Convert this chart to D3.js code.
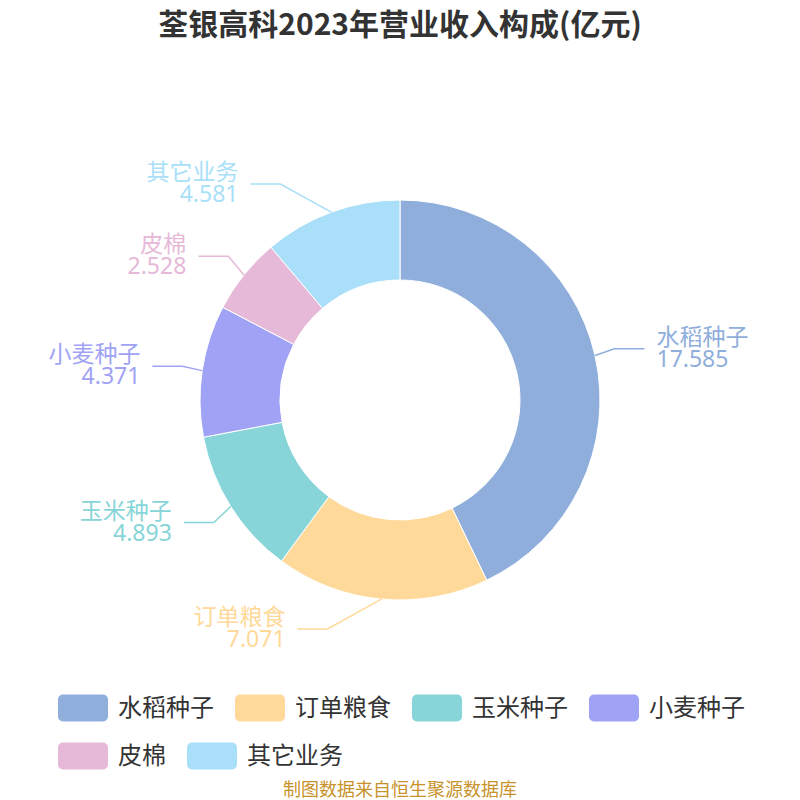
<!DOCTYPE html>
<meta charset="utf-8">
<script src="https://d3js.org/d3.v7.min.js"></script>
<style>
  body { margin: 0; background: #fff; }
  svg text { font-family: "Noto Sans CJK SC", "Noto Sans", sans-serif; }
  svg text.lbl { font-family: "Noto Sans", "Noto Sans CJK SC", sans-serif; }
</style>
<div id="chart"></div>
<script>
  // data
  const categories = ['水稻种子', '订单粮食', '玉米种子', '小麦种子', '皮棉', '其它业务'];
  const values = [17.585, 7.071, 4.893, 4.371, 2.528, 4.581];
  const colors = ['#8faedb', '#ffd999', '#87d5d8', '#a0a3f5', '#e6b9d8', '#a9dff8'];

  const title = '荃银高科2023年营业收入构成(亿元)';
  const source = '制图数据来自恒生聚源数据库';

  const width = 800, height = 800;
  const cx = 400, cy = 400, outerR = 200, innerR = 120;

  const svg = d3.select('#chart').append('svg')
    .attr('width', width)
    .attr('height', height);

  svg.append('text')
    .attr('x', width / 2)
    .attr('y', 35)
    .attr('text-anchor', 'middle')
    .style('font-size', '30px')
    .style('font-weight', 'bold')
    .style('fill', '#333')
    .text(title);

  const data = categories.map((c, i) => ({ name: c, value: values[i], color: colors[i] }));

  const pie = d3.pie().sort(null).value(d => d.value);
  const arcs = pie(data);
  const arc = d3.arc().innerRadius(innerR).outerRadius(outerR);

  const g = svg.append('g').attr('transform', `translate(${cx},${cy})`);

  g.selectAll('path.slice')
    .data(arcs)
    .enter()
    .append('path')
    .attr('class', 'slice')
    .attr('d', arc)
    .attr('fill', d => d.data.color)
    .attr('stroke', '#fff')
    .attr('stroke-width', 1);

  // label lines: edge -> bend -> horizontal run
  const len1x = 20, len1y = 30, len2 = 30, gap = 12;
  const steep = Math.tan(60 * Math.PI / 180), flat = Math.tan(29 * Math.PI / 180);

  const labels = arcs.map(d => {
    const a = (d.startAngle + d.endAngle) / 2;
    const s = Math.sin(a), c = Math.cos(a);
    const dir = s < 0 ? -1 : 1;
    const p0 = [outerR * s, -outerR * c];
    const p1 = [(outerR + len1x) * s, -(outerR + len1y) * c];
    const dx = Math.abs(p1[0] - p0[0]), dy = Math.abs(p1[1] - p0[1]);
    if (dy > dx * steep) {
      p1[0] = p0[0] + dir * dy / flat;
    }
    const p2 = [p1[0] + dir * len2, p1[1]];
    return { d, dir, pts: [p0, p1, p2] };
  });

  g.selectAll('path.guide')
    .data(labels)
    .enter()
    .append('path')
    .attr('class', 'guide')
    .attr('d', l => d3.line()(l.pts))
    .attr('fill', 'none')
    .attr('stroke', l => l.d.data.color)
    .attr('stroke-width', 1.5);

  const lt = g.selectAll('text.lbl')
    .data(labels)
    .enter()
    .append('text')
    .attr('class', 'lbl')
    .attr('text-anchor', l => l.dir < 0 ? 'end' : 'start')
    .style('font-size', '23px')
    .style('fill', l => l.d.data.color);

  lt.append('tspan')
    .attr('x', l => l.pts[2][0] + l.dir * gap)
    .attr('y', l => l.pts[2][1] - 4)
    .text(l => l.d.data.name);
  lt.append('tspan')
    .attr('x', l => l.pts[2][0] + l.dir * gap)
    .attr('y', l => l.pts[2][1] + 18)
    .text(l => l.d.data.value.toFixed(3));

  // legend
  const legendLeft = 58, legendMaxW = 700, rowH = 48, firstRowY = 708;
  const swW = 50, swH = 27, textGap = 10, itemGap = 21;
  const legend = svg.append('g');
  let lx = legendLeft, ly = firstRowY;
  data.forEach(d => {
    const item = legend.append('g');
    const t = item.append('text')
      .attr('x', swW + textGap)
      .attr('y', 0)
      .attr('dy', '0.35em')
      .style('font-size', '24px')
      .style('fill', '#333')
      .text(d.name);
    const w = swW + textGap + t.node().getComputedTextLength();
    if (lx + w > legendLeft + legendMaxW) {
      lx = legendLeft;
      ly += rowH;
    }
    item.insert('rect', 'text')
      .attr('x', 0)
      .attr('y', -swH / 2)
      .attr('width', swW)
      .attr('height', swH)
      .attr('rx', 5)
      .attr('fill', d.color);
    item.attr('transform', `translate(${lx},${ly})`);
    lx += w + itemGap;
  });

  svg.append('text')
    .attr('x', width / 2)
    .attr('y', 796)
    .attr('text-anchor', 'middle')
    .style('font-size', '18px')
    .style('fill', '#c8922a')
    .text(source);
</script>
